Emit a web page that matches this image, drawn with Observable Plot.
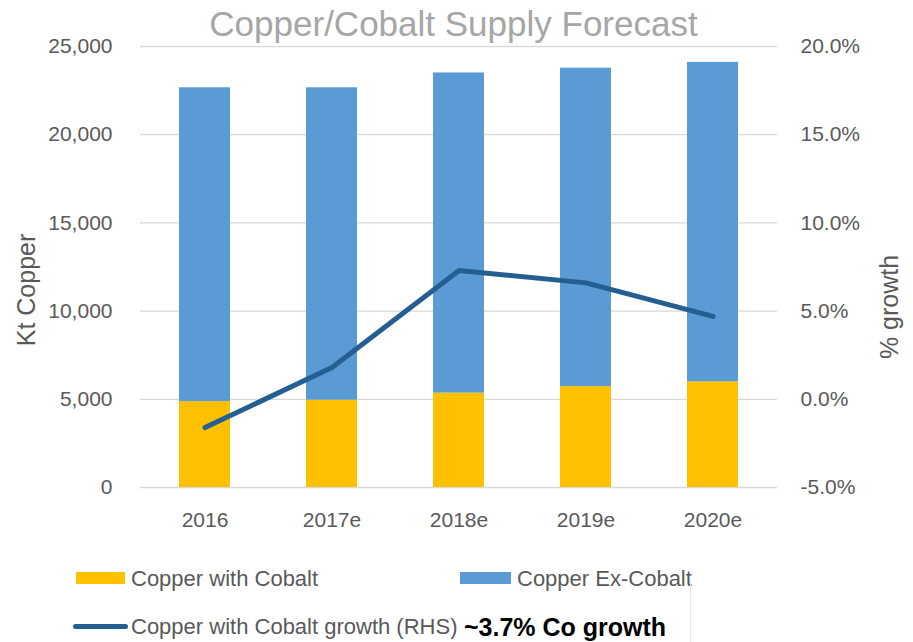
<!DOCTYPE html>
<html>
<head>
<meta charset="utf-8">
<script src="https://cdn.jsdelivr.net/npm/d3@7"></script>
<script src="https://cdn.jsdelivr.net/npm/@observablehq/plot@0.6"></script>
<style>
  html, body { margin: 0; padding: 0; background: #fff; }
  #wrap { position: relative; width: 913px; height: 642px; overflow: hidden; font-family: "Liberation Sans", Arial, sans-serif; }
  #title { position: absolute; left: -3px; top: 6px; width: 913px; text-align: center; font-size: 35px; line-height: 1; color: #a6a6a6; white-space: nowrap; }
  #chart { position: absolute; left: 0; top: 40px; }
  .lg { position: absolute; font-size: 22px; line-height: 1; color: #595959; white-space: nowrap; }
  .sw { position: absolute; }
  .axt { position: absolute; font-size: 25px; line-height: 1; color: #595959; white-space: nowrap; transform: translate(-50%, -50%) rotate(-90deg); }
</style>
</head>
<body>
<div id="wrap">
  <div id="title">Copper/Cobalt Supply Forecast</div>
  <div id="chart"></div>
  <div class="axt" style="left:26px; top:290px;">Kt Copper</div>
  <div class="axt" style="left:889px; top:307px;">% growth</div>
  <div class="sw" style="left:76px; top:572px; width:49px; height:12px; background:#ffc000;"></div>
  <div class="lg" style="left:131px; top:568px;">Copper with Cobalt</div>
  <div class="sw" style="left:460px; top:572px; width:51px; height:12px; background:#5b9bd5;"></div>
  <div class="lg" style="left:517px; top:568px;">Copper Ex-Cobalt</div>
  <div class="sw" style="left:73px; top:624px; width:55px; height:5px; border-radius:3px; background:#255e91;"></div>
  <div class="lg" style="left:131px; top:616px;">Copper with Cobalt growth (RHS)</div>
  <div class="lg" style="left:464px; top:615px; font-size:25px; font-weight:bold; color:#000;">~3.7% Co growth</div>
  <div class="sw" style="left:690px; top:582px; width:0; height:60px; border-left:1px solid #e6e6e6;"></div>
</div>
<script>
const years = ["2016", "2017e", "2018e", "2019e", "2020e"];
const seriesNames = ["Copper with Cobalt", "Copper Ex-Cobalt"];
const withCobalt = [4870, 4950, 5350, 5720, 5990];
const exCobalt = [17790, 17710, 18150, 18050, 18110];
const growthPct = [-1.6, 1.8, 7.3, 6.6, 4.7];
const leftTicks = [0, 5000, 10000, 15000, 20000, 25000];
const rightTicks = [-5, 0, 5, 10, 15, 20];

// right axis (-5%..20%) mapped onto left axis (0..25,000)
const pctToLeft = p => (p + 5) * 1000;

const barData = [];
years.forEach((y, i) => barData.push({year: y, series: seriesNames[0], value: withCobalt[i]}));
years.forEach((y, i) => barData.push({year: y, series: seriesNames[1], value: exCobalt[i]}));
const lineData = years.map((y, i) => ({year: y, growth: growthPct[i]}));

const txt = "#595959";
const chart = Plot.plot({
  width: 913,
  height: 520,
  marginTop: 6,
  marginBottom: 73,
  marginLeft: 140,
  marginRight: 136,
  style: {fontFamily: "'Liberation Sans', Arial, sans-serif", background: "transparent", overflow: "visible"},
  x: {domain: years, paddingInner: 0.6, paddingOuter: 0.3, axis: null},
  y: {domain: [0, 25000], axis: null},
  color: {domain: seriesNames, range: ["#ffc000", "#5b9bd5"]},
  marks: [
    Plot.gridY(leftTicks, {stroke: "#d9d9d9", strokeOpacity: 1, strokeWidth: 1.3}),
    Plot.barY(barData, {x: "year", y: "value", fill: "series"}),
    Plot.line(lineData, {x: "year", y: d => pctToLeft(d.growth), stroke: "#255e91", strokeWidth: 5, strokeLinecap: "round", strokeLinejoin: "round"}),
    Plot.axisY(leftTicks, {anchor: "left", tickSize: 0, tickPadding: 28, tickFormat: d3.format(","), fontSize: 21, color: txt, label: null}),
    Plot.axisY(rightTicks.map(pctToLeft), {anchor: "right", tickSize: 0, tickPadding: 23, tickFormat: d => (d / 1000 - 5).toFixed(1) + "%", fontSize: 21, color: txt, label: null}),
    Plot.axisX(years, {anchor: "bottom", tickSize: 0, tickPadding: 25, fontSize: 21, color: txt, label: null})
  ]
});
document.getElementById("chart").appendChild(chart);
</script>
</body>
</html>
